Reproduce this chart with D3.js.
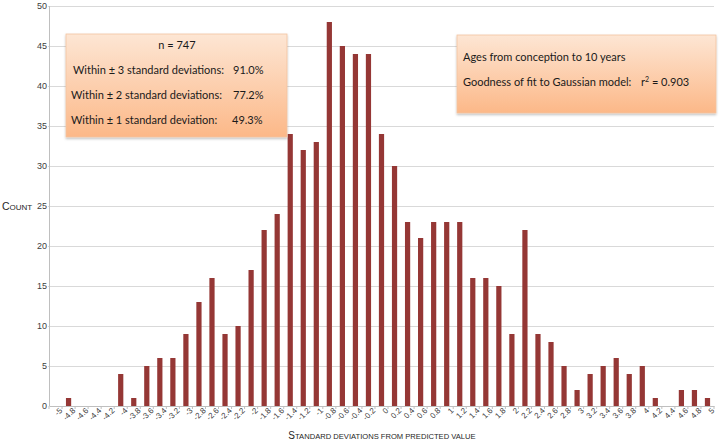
<!DOCTYPE html>
<html>
<head>
<meta charset="utf-8">
<script src="https://cdn.jsdelivr.net/npm/d3@7"></script>
<style>
  html, body { margin: 0; padding: 0; background: #fff; }
  svg { display: block; }
</style>
</head>
<body>
<div id="chart"></div>
<script>
// residuals histogram, Excel-style
const categories = ["-5", "-4.8", "-4.6", "-4.4", "-4.2", "-4", "-3.8", "-3.6", "-3.4", "-3.2",
  "-3", "-2.8", "-2.6", "-2.4", "-2.2", "-2", "-1.8", "-1.6", "-1.4", "-1.2",
  "-1", "-0.8", "-0.6", "-0.4", "-0.2", "0", "0.2", "0.4", "0.6", "0.8",
  "1", "1.2", "1.4", "1.6", "1.8", "2", "2.2", "2.4", "2.6", "2.8",
  "3", "3.2", "3.4", "3.6", "3.8", "4", "4.2", "4.4", "4.6", "4.8", "5"];
const counts = [0, 1, 0, 0, 0, 4, 1, 5, 6, 6,
  9, 13, 16, 9, 10, 17, 22, 24, 34, 32,
  33, 48, 45, 44, 44, 34, 30, 23, 21, 23,
  23, 23, 16, 16, 15, 9, 22, 9, 8, 5,
  2, 4, 5, 6, 4, 5, 1, 0, 2, 2, 1];
const yTicks = [0, 5, 10, 15, 20, 25, 30, 35, 40, 45, 50];
const statsLines = [
  ["Within \u00b1 3 standard deviations:", "91.0%"],
  ["Within \u00b1 2 standard deviations:", "77.2%"],
  ["Within \u00b1 1 standard deviation:", "49.3%"]
];

(function () {
  const width = 720;
  const height = 443;
  const left = 49, right = 714, top = 6, bottom = 406;

  const svg = d3.select("#chart").append("svg")
    .attr("width", width)
    .attr("height", height)
    .attr("font-family", "'Liberation Sans', Arial, sans-serif");

  const defs = svg.append("defs");
  const grad = defs.append("linearGradient")
    .attr("id", "boxFill").attr("x1", 0).attr("y1", 0).attr("x2", 0).attr("y2", 1);
  grad.append("stop").attr("offset", "0%").attr("stop-color", "#fde6d4");
  grad.append("stop").attr("offset", "100%").attr("stop-color", "#fcb888");
  const shadow = defs.append("filter").attr("id", "shadow")
    .attr("x", "-5%").attr("y", "-5%").attr("width", "115%").attr("height", "120%");
  shadow.append("feDropShadow").attr("dx", 0).attr("dy", 1.5)
    .attr("stdDeviation", 1.2).attr("flood-color", "#000").attr("flood-opacity", 0.25);

  const x = d3.scaleBand().domain(categories).range([left, right])
    .paddingInner(0.6).paddingOuter(0.3);
  const y = d3.scaleLinear().domain([0, 50]).range([bottom, top]);

  // gridlines (start just left of the axis, like short ticks)
  svg.append("g").selectAll("line")
    .data(yTicks.filter((d) => d > 0))
    .join("line")
    .attr("x1", left - 1).attr("x2", right)
    .attr("y1", (d) => y(d)).attr("y2", (d) => y(d))
    .attr("stroke", "#d9d9d9").attr("stroke-width", 1)
    .attr("shape-rendering", "crispEdges");

  // y axis: line plus tick labels
  svg.append("line")
    .attr("x1", left).attr("x2", left).attr("y1", top).attr("y2", bottom)
    .attr("stroke", "#bfbfbf").attr("shape-rendering", "crispEdges");
  svg.append("g").selectAll("text")
    .data(yTicks)
    .join("text")
    .attr("x", left - 2)
    .attr("y", (d) => y(d) + 3)
    .attr("text-anchor", "end")
    .attr("font-size", 9)
    .attr("fill", "#404040")
    .text((d) => d);

  // y title in small caps
  const yTitle = svg.append("text")
    .attr("x", 2).attr("y", 210)
    .attr("fill", "#262626");
  yTitle.append("tspan").attr("font-size", 10.5).text("C");
  yTitle.append("tspan").attr("font-size", 8).text("OUNT");

  const xTitle = svg.append("text")
    .attr("x", 382).attr("y", 439)
    .attr("text-anchor", "middle")
    .attr("fill", "#262626");
  xTitle.append("tspan").attr("font-size", 10).text("S");
  xTitle.append("tspan").attr("font-size", 7.6).text("TANDARD DEVIATIONS FROM PREDICTED VALUE");

  // x axis: labels at band centres, ticks at band boundaries
  const xAxis = svg.append("g")
    .attr("transform", `translate(0,${bottom})`)
    .call(d3.axisBottom(x).tickSize(0).tickPadding(4));
  xAxis.select(".domain").attr("stroke", "#bfbfbf");
  xAxis.selectAll(".tick text")
    .attr("font-size", 8)
    .attr("fill", "#404040")
    .attr("text-anchor", "end")
    .attr("transform", "rotate(-45)")
    .attr("dx", "0.2em")
    .attr("dy", "0.6em");

  const step = x.step();
  const boundaries = categories.map((c) => x(c) + x.bandwidth() / 2 - step / 2);
  boundaries.push(x(categories[categories.length - 1]) + x.bandwidth() / 2 + step / 2);
  xAxis.append("g").selectAll("line")
    .data(boundaries)
    .join("line")
    .attr("x1", (d) => d).attr("x2", (d) => d)
    .attr("y1", 0).attr("y2", 3)
    .attr("stroke", "#bfbfbf");

  // bars
  svg.append("g").selectAll("rect")
    .data(categories.map((c, i) => ({ c, v: counts[i] })))
    .join("rect")
    .attr("x", (d) => x(d.c))
    .attr("width", x.bandwidth())
    .attr("y", (d) => y(d.v))
    .attr("height", (d) => y(0) - y(d.v))
    .attr("fill", "#953735");

  // annotation boxes
  const boxFont = "Lato, 'DejaVu Sans', sans-serif";
  const fs = 11;
  const box1 = svg.append("g").attr("font-family", boxFont).attr("fill", "#1a1a1a");
  box1.append("rect")
    .attr("x", 66).attr("y", 34).attr("width", 221).attr("height", 103)
    .attr("fill", "url(#boxFill)").attr("stroke", "#f2c4a0").attr("stroke-width", 0.8)
    .attr("filter", "url(#shadow)");
  box1.append("text")
    .attr("x", 177).attr("y", 49)
    .attr("text-anchor", "middle").attr("font-size", fs)
    .text("n = 747");
  box1.selectAll("g.line")
    .data(statsLines)
    .join("g")
    .attr("class", "line")
    .each(function (d, i) {
      const g = d3.select(this);
      const yy = 74 + i * 25;
      g.append("text").attr("x", i === 0 ? 73 : 71).attr("y", yy).attr("font-size", fs).text(d[0]);
      g.append("text").attr("x", i === 2 ? 232 : 233).attr("y", yy).attr("font-size", fs).text(d[1]);
    });

  const box2 = svg.append("g").attr("font-family", boxFont).attr("fill", "#1a1a1a");
  box2.append("rect")
    .attr("x", 457).attr("y", 35).attr("width", 259).attr("height", 78)
    .attr("fill", "url(#boxFill)").attr("stroke", "#f2c4a0").attr("stroke-width", 0.8)
    .attr("filter", "url(#shadow)");
  box2.append("text")
    .attr("x", 463).attr("y", 61).attr("font-size", fs)
    .text("Ages from conception to 10 years");
  box2.append("text")
    .attr("x", 463).attr("y", 86).attr("font-size", fs)
    .text("Goodness of fit to Gaussian model:");
  const r2 = box2.append("text").attr("x", 641).attr("y", 86).attr("font-size", fs);
  r2.append("tspan").text("r");
  r2.append("tspan").attr("font-size", 7).attr("dy", -4).text("2");
  r2.append("tspan").attr("dy", 4).text(" = 0.903");
})();
</script>
</body>
</html>
